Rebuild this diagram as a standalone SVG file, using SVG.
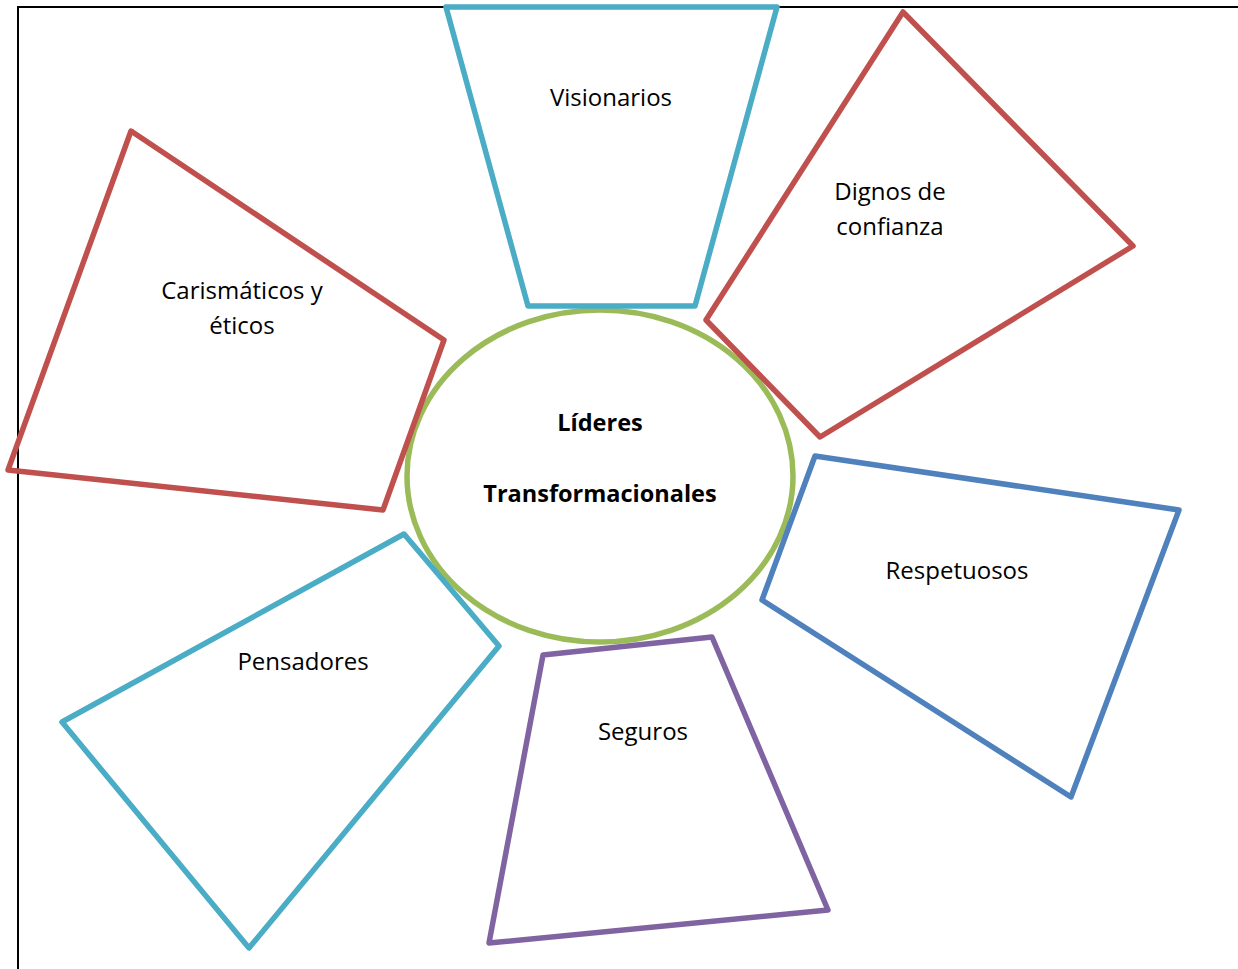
<svg xmlns="http://www.w3.org/2000/svg" width="1238" height="969" viewBox="0 0 1238 969">
<style>
.s{fill:none;stroke-width:5.5;stroke-linejoin:round}
.t{font-family:"Open Sans","Liberation Sans",sans-serif;font-size:24px;fill:#000;text-anchor:middle}
.b{font-weight:bold;font-size:23.5px}
</style>
<rect width="1238" height="969" fill="#fff"/>
<path d="M18 969V7H1238" fill="none" stroke="#000" stroke-width="2"/>
<g id="center"><ellipse cx="600" cy="476" rx="193" ry="166" class="s" stroke="#9BBB59"/>
<text class="t b" x="600" y="431">Líderes</text><text class="t b" x="600" y="502">Transformacionales</text></g>
<g id="visionarios"><polygon class="s" stroke="#4BACC6" points="446,7 777,7 695,306 528,306"/><text class="t" x="611" y="106">Visionarios</text></g>
<g id="dignos"><polygon class="s" stroke="#C0504D" points="903,12 1133,246 820,437 706,320"/><text class="t" x="890" y="200">Dignos de</text><text class="t" x="890" y="235">confianza</text></g>
<g id="carismaticos"><polygon class="s" stroke="#C0504D" points="131,131 444,340 383,510 8,470"/><text class="t" x="242" y="299">Carismáticos y</text><text class="t" x="242" y="334">éticos</text></g>
<g id="respetuosos"><polygon class="s" stroke="#4F81BD" points="815,456 1179,510 1071,797 762,600"/><text class="t" x="957" y="579">Respetuosos</text></g>
<g id="seguros"><polygon class="s" stroke="#8064A2" points="543,655 712,637 828,910 489,943"/><text class="t" x="643" y="740">Seguros</text></g>
<g id="pensadores"><polygon class="s" stroke="#4BACC6" points="404,534 499,646 249,948 62,722"/><text class="t" x="303" y="670">Pensadores</text></g>
<g id="connectors"></g>
</svg>
